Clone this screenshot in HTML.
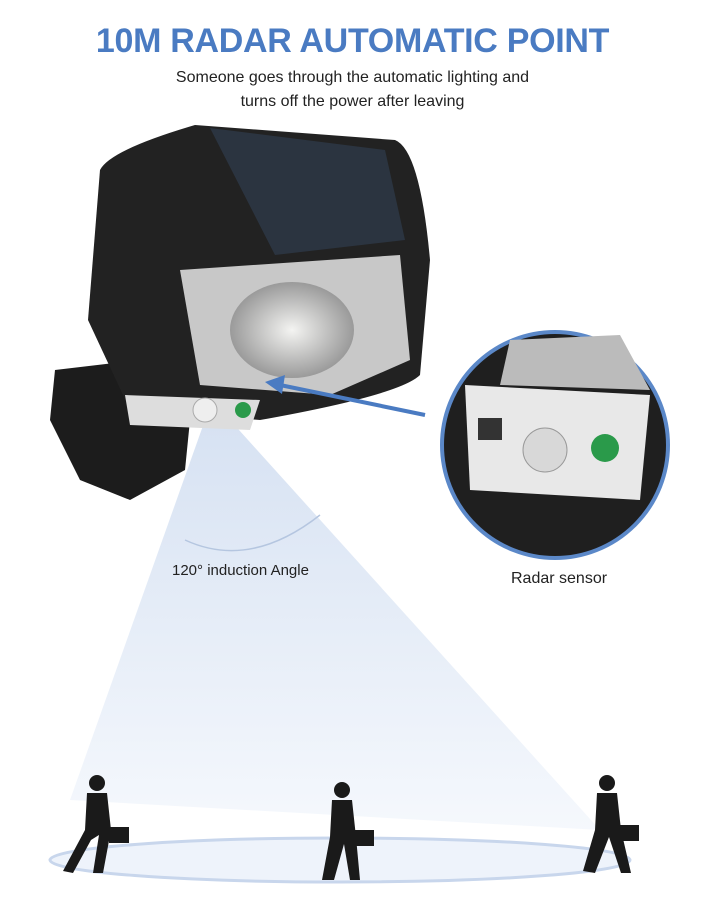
<!DOCTYPE html>
<html><head><meta charset="utf-8"><style>
html,body{margin:0;padding:0;background:#fff;}
body{width:705px;height:900px;position:relative;overflow:hidden;font-family:"Liberation Sans",sans-serif;}
.t{position:absolute;left:0;width:705px;text-align:center;}
</style></head><body>
<div class="t" style="top:22px;font-size:34px;font-weight:bold;color:#4a7bc2;letter-spacing:-0.3px;">10M RADAR AUTOMATIC POINT</div>
<div class="t" style="top:66px;font-size:16px;color:#222;line-height:24px;">Someone goes through the automatic lighting and<br>turns off the power after leaving</div>
<svg width="705" height="900" style="position:absolute;left:0;top:0">
<defs>
<linearGradient id="cone" x1="0" y1="0" x2="0" y2="1"><stop offset="0" stop-color="#c9d8ee"/><stop offset="1" stop-color="#f2f6fc"/></linearGradient>
<radialGradient id="lamp" cx="0.5" cy="0.5" r="0.5"><stop offset="0" stop-color="#f4f4f2"/><stop offset="1" stop-color="#9a9a9a"/></radialGradient>
</defs>
<polygon points="205,420 230,420 600,830 70,800" fill="url(#cone)" opacity="0.75"/>
<path d="M185,540 Q250,570 320,515" fill="none" stroke="#b5c6e0" stroke-width="1.5"/>
<ellipse cx="340" cy="860" rx="290" ry="22" fill="#eef3fb" stroke="#c8d6ec" stroke-width="3"/>
<path d="M55,370 L140,360 L190,420 L185,470 L130,500 L80,480 L50,420 Z" fill="#1c1c1c"/>
<path d="M100,170 Q110,150 195,125 L395,140 Q420,150 430,260 L420,375 Q400,395 260,420 L130,410 L88,320 Z" fill="#222"/>
<path d="M210,128 L385,150 L405,240 L275,255 Z" fill="#2b3440"/>
<path d="M180,270 L400,255 L410,360 L330,395 L200,385 Z" fill="#c8c8c8"/>
<ellipse cx="292" cy="330" rx="62" ry="48" fill="url(#lamp)"/>
<path d="M125,395 L260,400 L250,430 L130,425 Z" fill="#ddd"/>
<circle cx="205" cy="410" r="12" fill="#eee" stroke="#aaa"/>
<circle cx="243" cy="410" r="8" fill="#2a9a4a"/>
<line x1="425" y1="415" x2="280" y2="385" stroke="#4a7bc2" stroke-width="4"/>
<polygon points="265,382 285,375 282,394" fill="#4a7bc2"/>
<circle cx="555" cy="445" r="113" fill="#1f1f1f" stroke="#5b88c8" stroke-width="4"/>
<path d="M465,385 L650,395 L640,500 L470,490 Z" fill="#e8e8e8"/>
<path d="M510,340 L620,335 L650,390 L500,385 Z" fill="#bbb"/>
<rect x="478" y="418" width="24" height="22" fill="#333"/>
<circle cx="545" cy="450" r="22" fill="#d8d8d8" stroke="#999"/>
<circle cx="605" cy="448" r="14" fill="#2a9a4a"/>
</svg>
<div style="position:absolute;left:172px;top:562px;font-size:15px;color:#222;">120° induction Angle</div>
<div style="position:absolute;left:511px;top:570px;font-size:16px;color:#222;">Radar sensor</div>
<svg width="705" height="900" style="position:absolute;left:0;top:0">
<g fill="#1a1a1a">
<g transform="translate(85,775)"><circle cx="12" cy="8" r="8"/><path d="M2,18 L22,18 L26,55 L18,98 L8,98 L14,60 L6,65 L-12,98 L-22,96 L0,55 Z"/><rect x="24" y="52" width="20" height="16"/></g>
<g transform="translate(330,782)"><circle cx="12" cy="8" r="8"/><path d="M2,18 L22,18 L26,55 L30,98 L20,98 L14,62 L4,98 L-8,98 L0,55 Z"/><rect x="24" y="48" width="20" height="16"/></g>
<g transform="translate(595,775)"><circle cx="12" cy="8" r="8"/><path d="M2,18 L22,18 L26,55 L36,98 L26,98 L14,62 L0,98 L-12,96 L0,55 Z"/><rect x="24" y="50" width="20" height="16"/></g>
</g></svg>
</body></html>
